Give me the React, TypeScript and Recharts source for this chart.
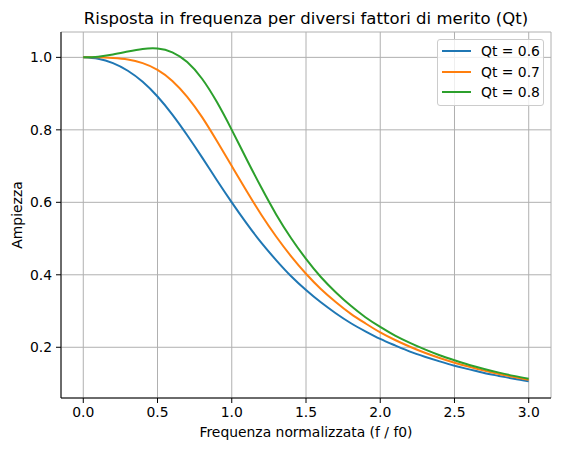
import { LineChart, Line, XAxis, YAxis, CartesianGrid } from 'recharts';

// frequenza normalizzata f/f0
const freq = [
  0.0, 0.1, 0.2, 0.3, 0.4, 0.5, 0.6, 0.7, 0.8, 0.9, 1.0,
  1.1, 1.2, 1.3, 1.4, 1.5, 1.6, 1.7, 1.8, 1.9, 2.0,
  2.1, 2.2, 2.3, 2.4, 2.5, 2.6, 2.7, 2.8, 2.9, 3.0,
];

const qt06 = [
  1.0, 0.996, 0.984, 0.963, 0.9325, 0.892, 0.842, 0.785, 0.724, 0.661, 0.6,
  0.542, 0.488, 0.440, 0.396, 0.358, 0.324, 0.294, 0.267, 0.244, 0.223,
  0.205, 0.188, 0.174, 0.161, 0.149, 0.139, 0.129, 0.121, 0.113, 0.106,
];

const qt07 = [
  1.0, 1.0, 0.998, 0.994, 0.984, 0.9655, 0.935, 0.891, 0.835, 0.769, 0.7,
  0.631, 0.565, 0.505, 0.451, 0.403, 0.361, 0.325, 0.293, 0.266, 0.241,
  0.220, 0.2015, 0.185, 0.1705, 0.1575, 0.146, 0.1355, 0.126, 0.118, 0.110,
];

const qt08 = [
  1.0, 1.002, 1.008, 1.016, 1.023, 1.0243, 1.014, 0.987, 0.941, 0.8765, 0.8,
  0.719, 0.640, 0.566, 0.501, 0.444, 0.394, 0.352, 0.315, 0.283, 0.256,
  0.232, 0.212, 0.194, 0.178, 0.164, 0.151, 0.140, 0.130, 0.121, 0.113,
];

const xTicks = [0, 0.5, 1.0, 1.5, 2.0, 2.5, 3.0];
const yTicks = [0.2, 0.4, 0.6, 0.8, 1.0];

const series = [
  { key: 'qt06', name: 'Qt = 0.6', color: '#1f77b4' },
  { key: 'qt07', name: 'Qt = 0.7', color: '#ff7f0e' },
  { key: 'qt08', name: 'Qt = 0.8', color: '#2ca02c' },
];

const data = freq.map((f, i) => ({ f, qt06: qt06[i], qt07: qt07[i], qt08: qt08[i] }));

const FONT = '"DejaVu Sans", sans-serif';
const tickStyle = { fontSize: 13.9, fill: '#000', fontFamily: FONT };

// legenda disegnata sopra il grafico, come quella di matplotlib
function LegendBox() {
  return (
    <div
      style={{
        position: 'absolute',
        left: 437,
        top: 39,
        width: 107,
        height: 67,
        border: '1px solid #cccccc',
        borderRadius: 3,
        background: 'rgba(255,255,255,0.8)',
        fontFamily: FONT,
        fontSize: 13.9,
        boxSizing: 'border-box',
        paddingTop: 1,
      }}
    >
      {series.map((s) => (
        <div key={s.key} style={{ display: 'flex', alignItems: 'center', height: 20.5 }}>
          <div style={{ width: 29, height: 2, background: s.color, marginLeft: 4, marginRight: 10 }} />
          <span style={{ color: '#000' }}>{s.name}</span>
        </div>
      ))}
    </div>
  );
}

export default function App() {
  return (
    <div style={{ position: 'absolute', left: 0, top: 0, width: 561, height: 450, background: '#fff' }}>
      <LineChart width={561} height={450} data={data} margin={{ top: 32, right: 10, bottom: 0, left: 0 }}>
        <CartesianGrid stroke="#b0b0b0" strokeWidth={1} />
        <XAxis
          dataKey="f"
          type="number"
          domain={[-0.15, 3.15]}
          ticks={xTicks}
          tickFormatter={(v: number) => v.toFixed(1)}
          height={52}
          tick={tickStyle}
          tickSize={5}
          tickMargin={4}
          stroke="#000"
          allowDataOverflow
        />
        <XAxis
          xAxisId="top"
          orientation="top"
          type="number"
          domain={[-0.15, 3.15]}
          height={0}
          tick={false}
          tickLine={false}
          stroke="#000"
        />
        <YAxis
          type="number"
          domain={[0.06, 1.07]}
          ticks={yTicks}
          tickFormatter={(v: number) => v.toFixed(1)}
          width={61}
          tick={tickStyle}
          tickSize={5}
          tickMargin={4}
          stroke="#000"
          allowDataOverflow
        />
        <YAxis
          yAxisId="right"
          orientation="right"
          type="number"
          domain={[0.06, 1.07]}
          width={0}
          tick={false}
          tickLine={false}
          stroke="#000"
        />
        {series.map((s) => (
          <Line
            key={s.key}
            dataKey={s.key}
            name={s.name}
            type="natural"
            stroke={s.color}
            strokeWidth={2}
            dot={false}
            isAnimationActive={false}
          />
        ))}
        <text x={306} y={24} textAnchor="middle" fontFamily={FONT} fontSize={16.5} fill="#000">
          Risposta in frequenza per diversi fattori di merito (Qt)
        </text>
        <text x={306} y={437} textAnchor="middle" fontFamily={FONT} fontSize={13.9} fill="#000">
          Frequenza normalizzata (f / f0)
        </text>
        <text
          x={22}
          y={215}
          textAnchor="middle"
          fontFamily={FONT}
          fontSize={13.9}
          fill="#000"
          transform="rotate(-90 22 215)"
        >
          Ampiezza
        </text>
      </LineChart>
      <LegendBox />
    </div>
  );
}
